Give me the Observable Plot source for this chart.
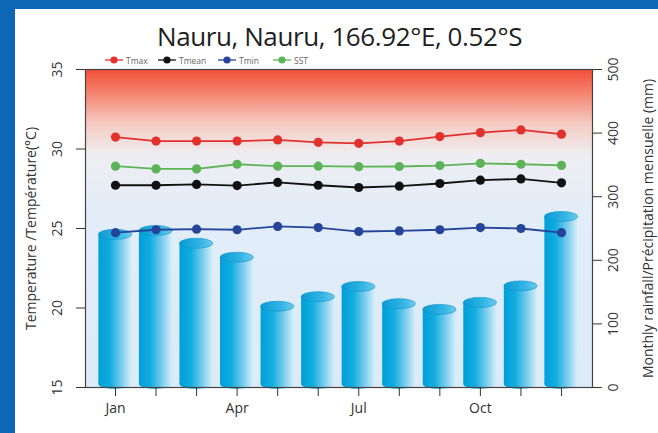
<!DOCTYPE html>
<html>
<head>
<meta charset="utf-8">
<script src="https://cdn.jsdelivr.net/npm/d3@7"></script>
<script src="https://cdn.jsdelivr.net/npm/@observablehq/plot@0.6"></script>
<style>
  html, body { margin: 0; padding: 0; }
  body { width: 658px; height: 433px; background: #0e67b6; position: relative; overflow: hidden; font-family: "Open Sans", sans-serif; }
  #panel { position: absolute; left: 15px; top: 9px; width: 643px; height: 424px; background: #fff; }
  #title { height: 45px; text-align: center; font-size: 26px; letter-spacing: -0.4px; color: #1e1e1e; line-height: 54px; padding-left: 6px; box-sizing: border-box; }
  #legend { height: 12px; display: flex; align-items: center; padding-left: 89px; font-size: 8.5px; color: #666; }
  .item { display: flex; align-items: center; }
  .item svg { margin-right: 2px; }
  #chart svg { overflow: visible; }
</style>
</head>
<body>
<div id="panel">
  <div id="title">Nauru, Nauru, 166.92°E, 0.52°S</div>
  <div id="legend"></div>
  <div id="chart"></div>
</div>
<script>
const months = ["Jan","Feb","Mar","Apr","May","Jun","Jul","Aug","Sep","Oct","Nov","Dec"];
const shownMonths = ["Jan","Apr","Jul","Oct"];
const tmax  = [30.75, 30.5, 30.5, 30.5, 30.57, 30.42, 30.36, 30.5, 30.78, 31.03, 31.2, 30.93];
const tmean = [27.72, 27.72, 27.77, 27.7, 27.9, 27.72, 27.58, 27.66, 27.83, 28.04, 28.12, 27.87];
const tmin  = [24.74, 24.92, 24.96, 24.92, 25.13, 25.06, 24.81, 24.85, 24.92, 25.06, 25.0, 24.74];
const sst   = [28.92, 28.75, 28.75, 29.04, 28.92, 28.92, 28.89, 28.9, 28.96, 29.1, 29.04, 28.97];
const rain  = [240, 246, 226, 204, 127, 142, 158, 131, 122, 133, 159, 268];
const tempTicks = [15, 20, 25, 30, 35];
const rainTicks = [0, 100, 200, 300, 400, 500];
const seriesNames = ["Tmax", "Tmean", "Tmin", "SST"];
const seriesColors = ["#e2312d", "#111111", "#25449a", "#5db357"];
const seriesValues = [tmax, tmean, tmin, sst];

// rainfall (0-500 mm) shares the temperature axis (15-35 °C)
const toT = r => 15 + r * 20 / 500;
const toR = t => Math.round((t - 15) * 500 / 20);

const temps = [];
seriesNames.forEach((s, k) => seriesValues[k].forEach((v, i) => temps.push({series: s, m: i + 1, v})));
const rainData = rain.map((r, i) => ({m: i + 1, r}));

// legend
const legend = document.getElementById("legend");
const itemWidths = [53, 60, 55, 40];
seriesNames.forEach((s, k) => {
  const it = document.createElement("div");
  it.className = "item";
  it.style.width = itemWidths[k] + "px";
  it.innerHTML = `<svg width="20" height="10"><line x1="1" x2="19" y1="5" y2="5" stroke="${seriesColors[k]}" stroke-width="1.3"/><circle cx="10" cy="5" r="3.6" fill="${seriesColors[k]}"/></svg><span>${s}</span>`;
  legend.appendChild(it);
});

function cylinders(index, scales) {
  const {x, y} = scales;
  const g = d3.create("svg:g");
  const defs = g.append("defs");
  const bg = defs.append("linearGradient").attr("id", "bgGrad").attr("x1", 0).attr("x2", 0).attr("y1", 0).attr("y2", 1);
  [[0, "#f24f38"], [0.07, "#f5806c"], [0.17, "#f6cbc3"], [0.27, "#eeeef2"], [0.45, "#e2edf8"], [1, "#dbebf8"]]
    .forEach(([o, c]) => bg.append("stop").attr("offset", o).attr("stop-color", c));
  const body = defs.append("linearGradient").attr("id", "barGrad");
  [[0, "#009fdb"], [0.35, "#12addf"], [0.7, "#7ccdee"], [1, "#d8eff9"]]
    .forEach(([o, c]) => body.append("stop").attr("offset", o).attr("stop-color", c));
  const top = defs.append("linearGradient").attr("id", "topGrad");
  [[0, "#0b9ad4"], [0.6, "#2fb4e4"], [1, "#6fcaee"]]
    .forEach(([o, c]) => top.append("stop").attr("offset", o).attr("stop-color", c));
  const step = x(2) - x(1);
  const hw = step * 0.41, ry = 5;
  const y0 = y(toT(0));
  for (const d of rainData) {
    const cx = x(d.m), yt = y(toT(d.r));
    g.append("ellipse").attr("cx", cx).attr("cy", y0 - ry + 2).attr("rx", hw).attr("ry", ry).attr("fill", "url(#barGrad)");
    g.append("rect").attr("x", cx - hw).attr("y", yt).attr("width", 2 * hw).attr("height", y0 - ry + 2 - yt).attr("fill", "url(#barGrad)");
    g.append("ellipse").attr("cx", cx).attr("cy", yt).attr("rx", hw).attr("ry", ry).attr("fill", "url(#topGrad)").attr("stroke", "#0a94cc").attr("stroke-width", 0.6);
  }
  return g.node();
}

const chart = Plot.plot({
  width: 643,
  height: 358,
  marginTop: 3,
  marginLeft: 70,
  marginRight: 66,
  marginBottom: 37,
  style: {fontFamily: "Open Sans", fontSize: "14px", color: "#333", background: "transparent"},
  x: {domain: [0.26, 12.765]},
  y: {domain: [15, 35]},
  color: {domain: seriesNames, range: seriesColors},
  marks: [
    Plot.frame({fill: "url(#bgGrad)"}),
    cylinders,
    Plot.line(temps, {x: "m", y: "v", z: "series", stroke: "series", strokeWidth: 1.8}),
    Plot.dot(temps, {x: "m", y: "v", fill: "series", r: 4.6}),
    Plot.axisX({ticks: months.map((_, i) => i + 1), tickFormat: m => shownMonths.includes(months[m - 1]) ? months[m - 1] : "", tickSize: 9, tickPadding: 7, fontSize: 14, label: null}),
    Plot.axisY({ticks: tempTicks, tickRotate: -90, tickSize: 9, tickPadding: 15, fontSize: 14, label: "Temperature /Température(°C)", labelAnchor: "center", labelArrow: "none", labelOffset: 59}),
    Plot.axisY({anchor: "right", ticks: rainTicks.map(toT), tickFormat: toR, tickRotate: -90, tickSize: 9, tickPadding: 16, fontSize: 14, label: "Monthly rainfall/Précipitation mensuelle (mm)", labelAnchor: "center", labelArrow: "none", labelOffset: 60}),
    Plot.frame({stroke: "#444", strokeWidth: 1.2})
  ]
});
document.getElementById("chart").appendChild(chart);
</script>
</body>
</html>
